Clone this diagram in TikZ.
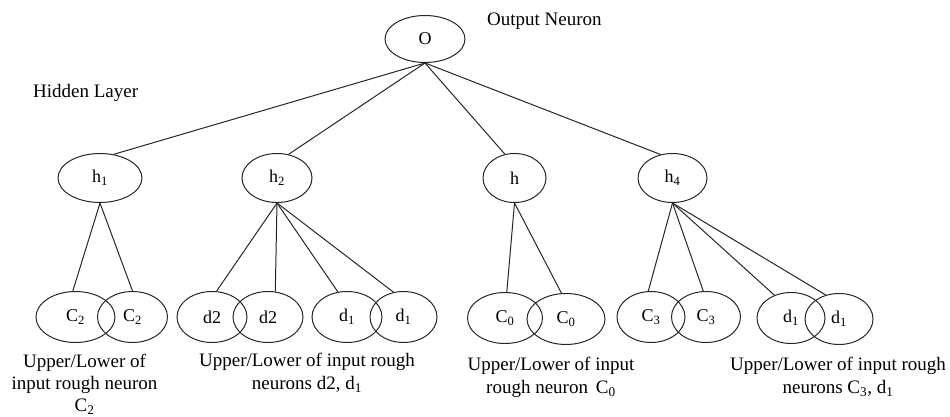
\documentclass[tikz,border=0pt]{standalone}
\usepackage{fontspec}
\setmainfont{Liberation Serif}
\usetikzlibrary{shapes.geometric}
\tikzset{
  neuron/.style={draw=black!85, line width=1pt, ellipse, inner sep=0pt,
    minimum height=49pt, font=\fontsize{18}{22}\selectfont},
  inneuron/.style={neuron, minimum height=51pt, minimum width=70pt},
  link/.style={draw=black!85, line width=1pt},
  caption/.style={align=center, inner sep=0pt, font=\fontsize{19}{23}\selectfont},
  tag/.style={anchor=west, inner sep=0pt, font=\fontsize{19}{23}\selectfont},
}
\begin{document}
\begin{tikzpicture}[x=1pt,y=-1pt]
\useasboundingbox (0,0) rectangle (950,417);

% output neuron
\node[neuron, minimum width=80pt, minimum height=47pt] (o) at (425,39) {O};

% hidden layer
\node[neuron, minimum width=84pt] (h1) at (100,178) {h\textsubscript{1}};
\node[neuron, minimum width=70pt] (h2) at (277,178) {h\textsubscript{2}};
\node[neuron, minimum width=63pt] (h3) at (514.5,178) {h};
\node[neuron, minimum width=69pt] (h4) at (672.5,178) {h\textsubscript{4}};

% input rough neurons (upper/lower pairs)
\node[inneuron, minimum width=79pt] (c2a) at (75.5,317) {C\textsubscript{2}};
\node[inneuron] (c2b) at (132.5,317) {C\textsubscript{2}};
\node[inneuron] (d2a) at (212,317) {d2};
\node[inneuron] (d2b) at (268,317) {d2};
\node[inneuron] (d1a) at (347,317) {d\textsubscript{1}};
\node[inneuron, minimum width=67pt] (d1b) at (403.5,317) {d\textsubscript{1}};
\node[inneuron, minimum width=75pt] (c0a) at (505,318) {C\textsubscript{0}};
\node[inneuron, minimum width=78pt] (c0b) at (566,319) {C\textsubscript{0}};
\node[inneuron, minimum width=68pt] (c3a) at (651,317) {C\textsubscript{3}};
\node[inneuron, minimum width=69pt] (c3b) at (706,317) {C\textsubscript{3}};
\node[inneuron, minimum width=68pt] (d1c) at (791,318) {d\textsubscript{1}};
\node[inneuron, minimum width=68pt] (d1d) at (839,319) {d\textsubscript{1}};

% output to hidden
\draw[link] (o.south) -- (h1.60);
\draw[link] (o.south) -- (h2.64);
\draw[link] (o.south) -- (h3.112);
\draw[link] (o.south) -- (h4.117);

% hidden to inputs
\draw[link] (h1.south) -- (c2a.96);
\draw[link] (h1.south) -- (c2b.north);
\draw[link] (h2.south) -- (d2a.80);
\draw[link] (h2.south) -- (d2b.74);
\draw[link] (h2.south) -- (d1a.110);
\draw[link] (h2.south) -- (d1b.112);
\draw[link] (h3.south) -- (c0a.86);
\draw[link] (h3.south) -- (c0b.100);
\draw[link] (h4.south) -- (c3a.96);
\draw[link] (h4.south) -- (c3b.96);
\draw[link] (h4.south) -- (d1c.126);
\draw[link] (h4.south) -- (d1d.119);

% layer names
\node[tag] (outlbl) at (487,21) {Output Neuron};
\node[tag] (hidlbl) at (33,93) {Hidden Layer};

% captions under the input pairs
\node[caption, font=\fontsize{19}{22}\selectfont] (cap1) at (84.5,384) {Upper/Lower of\\input rough neuron\\C\textsubscript{2}};
\node[caption] (cap2) at (307,373) {Upper/Lower of input rough\\neurons d2, d\textsubscript{1}};
\node[caption] (cap3) at (551,377) {Upper/Lower of input\\rough neuron\, C\textsubscript{0}};
\node[caption] (cap4) at (838,377) {Upper/Lower of input rough\\neurons C\textsubscript{3}, d\textsubscript{1}};
\end{tikzpicture}
\end{document}
